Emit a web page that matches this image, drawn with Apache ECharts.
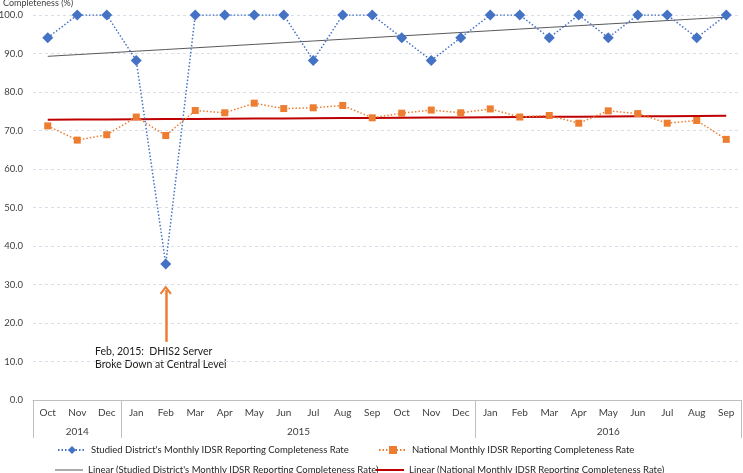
<!DOCTYPE html>
<html><head><meta charset="utf-8">
<script src="https://cdn.jsdelivr.net/npm/echarts@6/dist/echarts.min.js"></script>
<style>html,body{margin:0;padding:0;background:#fff}#c{width:743px;height:473px}</style>
</head><body><div id="c"></div>
<script>
const months = ['Oct','Nov','Dec','Jan','Feb','Mar','Apr','May','Jun','Jul','Aug','Sep','Oct','Nov','Dec','Jan','Feb','Mar','Apr','May','Jun','Jul','Aug','Sep'];
const monthYears = [2014,2014,2014,2015,2015,2015,2015,2015,2015,2015,2015,2015,2015,2015,2015,2016,2016,2016,2016,2016,2016,2016,2016,2016];
const yearLabels = ['2014','2015','2016'];
const yTicks = ['0.0','10.0','20.0','30.0','40.0','50.0','60.0','70.0','80.0','90.0','100.0'];
const districtRate = [94.1,100,100,88.2,35.3,100,100,100,100,88.2,100,100,94.1,88.2,94.1,100,100,94.1,100,94.1,100,100,94.1,100];
const nationalRate = [71.2,67.5,68.9,73.5,68.7,75.2,74.6,77.1,75.7,75.9,76.5,73.3,74.5,75.3,74.6,75.6,73.5,73.9,71.9,75.1,74.4,71.9,72.6,67.7];
const seriesNames = [
  "Studied District's Monthly IDSR Reporting Completeness Rate",
  "National Monthly IDSR Reporting Completeness Rate",
  "Linear (Studied District's Monthly IDSR Reporting Completeness Rate)",
  "Linear (National Monthly IDSR Reporting Completeness Rate)"
];
const annotationText = 'Feb, 2015:  DHIS2 Server\nBroke Down at Central Level';
const annotationMonth = 4;
const annotationArrow = [15.1, 28.6];

function linearFit(ys){
  const n = ys.length; let sx=0, sy=0, sxx=0, sxy=0;
  ys.forEach((y,x)=>{sx+=x; sy+=y; sxx+=x*x; sxy+=x*y;});
  const b = (n*sxy - sx*sy)/(n*sxx - sx*sx); const a = (sy - b*sx)/n;
  return ys.map((_,x)=>+(a+b*x).toFixed(3));
}
const categories = months.map((m,i)=>m+' '+monthYears[i]);
const yearStart = yearLabels.map(y=>monthYears.indexOf(+y));
const yearEnd = yearLabels.map(y=>monthYears.lastIndexOf(+y)+1);
const yearCenters = yearLabels.map((y,i)=>(yearStart[i]+yearEnd[i])/2);
const yearBounds = [0].concat(yearEnd);

const font = 'Lato, "Liberation Sans", sans-serif';
const legendText = {fontSize:9.5, color:'#262626', fontFamily:font};
const chart = echarts.init(document.getElementById('c'));
chart.setOption({
  animation:false,
  textStyle:{fontFamily:font},
  title:{text:'Completeness (%)', left:3, top:-1, padding:0, textStyle:{fontSize:9, fontWeight:'normal', color:'#404040', fontFamily:font}},
  grid:{left:33, right:2, top:15, bottom:73, outerBoundsMode:'none'},
  xAxis:[
    {type:'category', data:categories, boundaryGap:true,
     axisLine:{show:true, lineStyle:{color:'#bfbfbf', width:1}},
     axisTick:{show:false},
     axisLabel:{interval:0, margin:8, fontSize:10, color:'#404040', formatter:v=>v.split(' ')[0]}},
    {type:'value', min:0, max:months.length, position:'bottom',
     axisLine:{show:false}, splitLine:{show:false},
     axisTick:{show:true, length:38, customValues:yearBounds, lineStyle:{color:'#bfbfbf', width:1}},
     axisLabel:{show:true, customValues:yearCenters, margin:27, fontSize:10, color:'#404040',
       formatter:v=>{const i=yearCenters.indexOf(v); return i>=0?yearLabels[i]:'';}}}
  ],
  yAxis:{type:'value', min:0, max:100, interval:10,
    axisLine:{show:false}, axisTick:{show:false},
    axisLabel:{margin:10, fontSize:9.5, color:'#404040', formatter:v=>yTicks[Math.round(v/10)]},
    splitLine:{lineStyle:{color:'#d9dee8', type:[3,3], width:1}}},
  legend:[
    {data:[seriesNames[0]], left:52, top:440, itemWidth:28, itemHeight:10, textStyle:legendText},
    {data:[seriesNames[1]], left:373, top:440, itemWidth:28, itemHeight:10, textStyle:legendText},
    {data:[{name:seriesNames[2], icon:'rect'}], left:50, top:460, itemWidth:28, itemHeight:1, textStyle:legendText},
    {data:[{name:seriesNames[3], icon:'rect'}], left:371, top:460, itemWidth:28, itemHeight:2, textStyle:legendText}
  ],
  graphic:[{type:'text', left:95, top:345, style:{text:annotationText, font:'10.5px '+font, fill:'#1a1a1a', lineHeight:13}}],
  series:[
    {name:seriesNames[2], type:'line', data:linearFit(districtRate), symbol:'none', z:1,
     lineStyle:{color:'#595959', width:1}, itemStyle:{color:'#595959'}},
    {name:seriesNames[3], type:'line', data:linearFit(nationalRate), symbol:'none', z:1,
     lineStyle:{color:'#c00000', width:2}, itemStyle:{color:'#c00000'}},
    {name:seriesNames[0], type:'line', data:districtRate, symbol:'diamond', symbolSize:11, z:3,
     lineStyle:{color:'#4472c4', width:1.5, type:[1.5,2]}, itemStyle:{color:'#4472c4'}},
    {name:seriesNames[1], type:'line', data:nationalRate, symbol:'rect', symbolSize:7, z:2,
     lineStyle:{color:'#ed7d31', width:1.5, type:[1.5,2]}, itemStyle:{color:'#ed7d31'},
     markLine:{silent:true, symbol:['none','path://M5,0 L10,8 L8.6,9.2 L5,3.4 L1.4,9.2 L0,8 Z'], symbolSize:[12,9],
       label:{show:false}, lineStyle:{color:'#ed7d31', width:2.5, type:'solid'},
       data:[[{coord:[annotationMonth, annotationArrow[0]]},{coord:[annotationMonth, annotationArrow[1]]}]]}}
  ]
});
</script></body></html>
